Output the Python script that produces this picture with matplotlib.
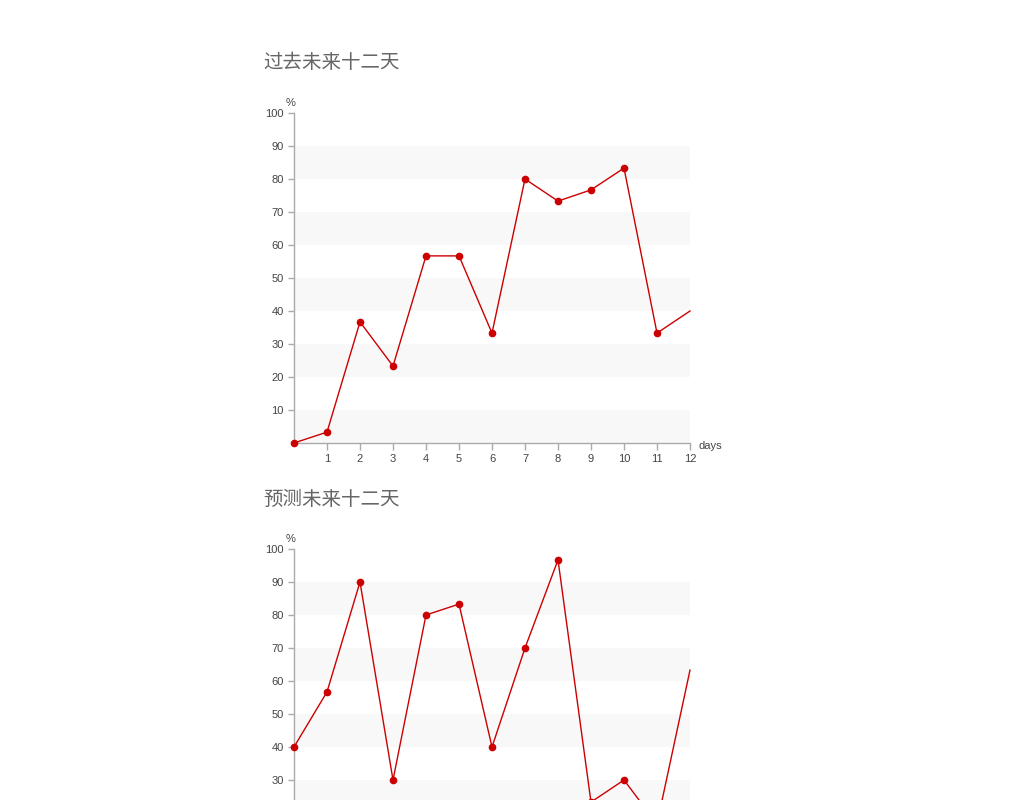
import matplotlib.pyplot as plt

plt.rcParams['font.family'] = ['Liberation Sans', 'DejaVu Sans']

days = list(range(13))
past_title = "过去未来十二天"
past_vals = [0, 3.3, 36.7, 23.3, 56.7, 56.7, 33.3, 80, 73.3, 76.7, 83.3, 33.3, 40]
future_title = "预测未来十二天"
future_vals = [40, 56.7, 90, 30, 80, 83.3, 40, 70, 96.7, 23.3, 30, 16.7, 63.3]
yticks = [10, 20, 30, 40, 50, 60, 70, 80, 90, 100]
xticks = list(range(1, 13))

W, H = 1024, 800
fig = plt.figure(figsize=(W / 100, H / 100), dpi=100)


def panel(top_px, title, vals, show_x=True):
    # top_px = pixel row of the 100 line
    ax = fig.add_axes([294 / W, 1 - (top_px + 330) / H, 396 / W, 330 / H])
    ax.set_xlim(0, 12)
    ax.set_ylim(0, 100)
    for lo in range(0, 100, 20):
        ax.axhspan(lo, lo + 10, color='#f8f8f8', lw=0, zorder=0)
    ax.plot(days, vals, color='#cc0000', lw=1, zorder=3, clip_on=False)
    ax.plot(days[:-1], vals[:-1], 'o', color='#cc0000', ms=4.5, zorder=4,
            clip_on=False)
    for s in ['top', 'right']:
        ax.spines[s].set_visible(False)
    for s in ['left', 'bottom']:
        ax.spines[s].set_color('#aaaaaa')
        ax.spines[s].set_linewidth(1)
    ax.set_yticks(yticks)
    ax.set_xticks(xticks)
    ax.tick_params(colors='#aaaaaa', labelcolor='#444444', labelsize=8,
                   length=4, width=1)
    ax.tick_params(axis='x', length=5, pad=3, labelbottom=show_x)
    ax.set_facecolor('none')
    ax.text(-0.1, 101.5, '%', fontsize=8, color='#444444', ha='center',
            va='bottom', clip_on=False)
    if show_x:
        ax.text(12.25, -0.8, 'days', fontsize=8, color='#444444', ha='left',
                va='center', clip_on=False)
    fig.text(263 / W, 1 - (top_px - 50) / H, title, fontsize=14,
             color='#666666', family=['Noto Sans CJK SC', 'DejaVu Sans'],
             ha='left', va='center')
    return ax


panel(113, past_title, past_vals)
# the lower panel runs past the bottom edge, its x labels are not visible
panel(549, future_title, future_vals, show_x=False)

fig.savefig('out.png', dpi=100)
